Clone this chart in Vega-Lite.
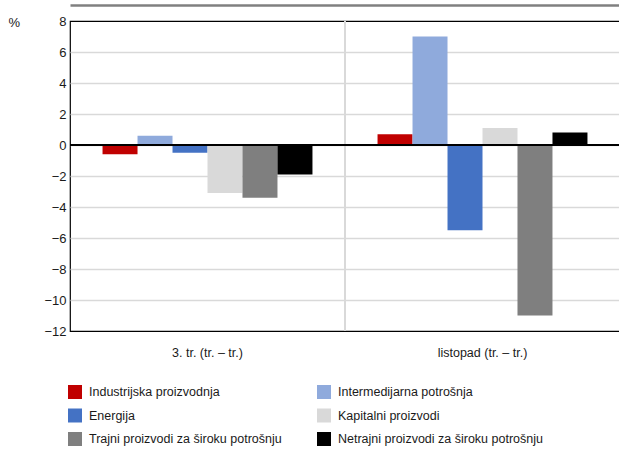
{
  "$schema": "https://vega.github.io/schema/vega-lite/v6.json",
  "width": 550,
  "height": 310,
  "autosize": {"type": "none"},
  "padding": {"left": 70, "top": 21, "right": 0, "bottom": 120},
  "config": {
    "font": "Liberation Sans",
    "view": {"stroke": "#000000", "strokeWidth": 1.2},
    "axis": {"labelFont": "Liberation Sans", "titleFont": "Liberation Sans", "labelColor": "#1a1a1a", "titleColor": "#1a1a1a"},
    "legend": {"labelFont": "Liberation Sans"}
  },
  "datasets": {
    "bars": [
      {"group": "3. tr. (tr. – tr.)", "series": "Industrijska proizvodnja", "value": -0.6},
      {"group": "3. tr. (tr. – tr.)", "series": "Intermedijarna potrošnja", "value": 0.6},
      {"group": "3. tr. (tr. – tr.)", "series": "Energija", "value": -0.5},
      {"group": "3. tr. (tr. – tr.)", "series": "Kapitalni proizvodi", "value": -3.1},
      {"group": "3. tr. (tr. – tr.)", "series": "Trajni proizvodi za široku potrošnju", "value": -3.4},
      {"group": "3. tr. (tr. – tr.)", "series": "Netrajni proizvodi za široku potrošnju", "value": -1.9},
      {"group": "listopad (tr. – tr.)", "series": "Industrijska proizvodnja", "value": 0.7},
      {"group": "listopad (tr. – tr.)", "series": "Intermedijarna potrošnja", "value": 7.0},
      {"group": "listopad (tr. – tr.)", "series": "Energija", "value": -5.5},
      {"group": "listopad (tr. – tr.)", "series": "Kapitalni proizvodi", "value": 1.1},
      {"group": "listopad (tr. – tr.)", "series": "Trajni proizvodi za široku potrošnju", "value": -11.0},
      {"group": "listopad (tr. – tr.)", "series": "Netrajni proizvodi za široku potrošnju", "value": 0.8}
    ]
  },
  "data": {"name": "bars"},
  "resolve": {"axis": {"x": "independent", "y": "independent"}},
  "layer": [
    {
      "mark": {"type": "rule", "color": "#d9d9d9", "strokeWidth": 1.5},
      "encoding": {
        "x": {
          "datum": "listopad (tr. – tr.)",
          "type": "nominal",
          "bandPosition": 0,
          "scale": {"domain": ["3. tr. (tr. – tr.)", "listopad (tr. – tr.)"], "paddingInner": 0, "paddingOuter": 0},
          "axis": {"orient": "top", "domainColor": "#808080", "domainWidth": 2.5, "offset": 16, "labels": false, "ticks": false, "grid": false, "title": null}
        }
      }
    },
    {
      "mark": {"type": "bar"},
      "encoding": {
        "x": {
          "field": "group",
          "type": "nominal",
          "sort": null,
          "scale": {"domain": ["3. tr. (tr. – tr.)", "listopad (tr. – tr.)"], "paddingInner": 0, "paddingOuter": 0},
          "axis": {"orient": "bottom", "title": null, "domain": false, "ticks": false, "labelAngle": 0, "labelFontSize": 12.5, "labelPadding": 15}
        },
        "xOffset": {
          "field": "series",
          "type": "nominal",
          "sort": null,
          "scale": {"paddingInner": 0, "paddingOuter": 0.93}
        },
        "y": {
          "field": "value",
          "type": "quantitative",
          "scale": {"domain": [-12, 8], "nice": false, "zero": false},
          "axis": {
            "values": [-12, -10, -8, -6, -4, -2, 0, 2, 4, 6, 8],
            "labelOverlap": false,
            "domain": false,
            "ticks": false,
            "labelPadding": 4,
            "labelFontSize": 13,
            "gridColor": {"condition": {"test": "datum.value == 8 || datum.value == -12", "value": "transparent"}, "value": "#d9d9d9"},
            "gridWidth": 1.3,
            "title": "%",
            "titleAngle": 0,
            "titleX": -62,
            "titleY": 1,
            "titleAlign": "left",
            "titleBaseline": "middle",
            "titleFontWeight": "normal",
            "titleFontSize": 13
          }
        },
        "color": {
          "field": "series",
          "type": "nominal",
          "scale": {
            "domain": ["Industrijska proizvodnja", "Energija", "Trajni proizvodi za široku potrošnju", "Intermedijarna potrošnja", "Kapitalni proizvodi", "Netrajni proizvodi za široku potrošnju"],
            "range": ["#c00000", "#4472c4", "#7f7f7f", "#8faadc", "#d9d9d9", "#000000"]
          },
          "legend": {
            "orient": "none",
            "legendX": -2,
            "legendY": 364,
            "columns": 2,
            "title": null,
            "symbolType": "square",
            "symbolSize": 196,
            "symbolStrokeWidth": 0,
            "symbolOpacity": 1,
            "labelFontSize": 12.5,
            "labelColor": "#1a1a1a",
            "labelOffset": 7,
            "labelLimit": 300,
            "rowPadding": 9.5,
            "columnPadding": 35,
            "padding": 0
          }
        }
      }
    },
    {
      "mark": {"type": "rule", "color": "#000000", "strokeWidth": 1.5},
      "encoding": {"y": {"datum": 0, "type": "quantitative", "axis": null}}
    }
  ]
}
